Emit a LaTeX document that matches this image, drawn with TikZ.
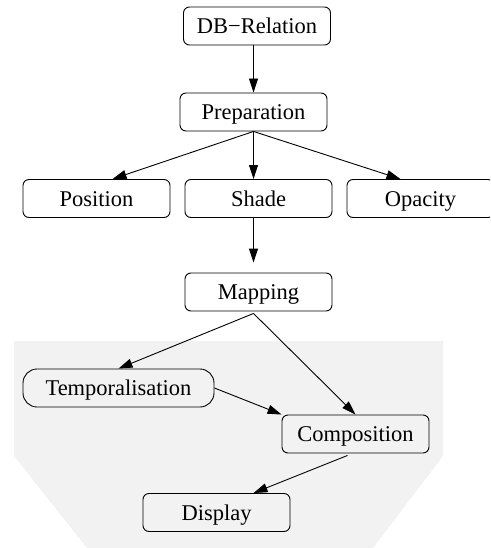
\documentclass[tikz,border=0pt]{standalone}
\usepackage{fontspec}
\setmainfont{Liberation Serif}
\usetikzlibrary{arrows.meta,calc}
\definecolor{panel}{HTML}{F2F2F2}
\tikzset{
  stagebox/.style={draw, line width=0.9pt, rounded corners=6pt, minimum width=147pt,
    minimum height=38pt, inner sep=0pt, text height=17pt, text depth=1.5pt,
    font=\fontsize{22.5}{26}\selectfont, fill=white},
  roundbox/.style={stagebox, rounded corners=14pt, minimum width=191pt},
  flow/.style={draw, line width=0.9pt, -{Triangle[length=14pt,width=9pt]}}
}
\begin{document}
\begin{tikzpicture}[x=1pt,y=-1pt]
  \clip (0,0) rectangle (490,548);
  \useasboundingbox (0,0) rectangle (490,548);
  % shaded panel behind the lower stages
  \fill[panel] (14,341) -- (443,341) -- (443,456) -- (373,548) -- (87,548) -- (14,456) -- cycle;

  \node[stagebox] (db)   at (257,26)    {DB\textminus Relation};
  \node[stagebox] (prep) at (253.5,112) {Preparation};
  \node[stagebox] (pos)  at (96.5,198.5) {Position};
  \node[stagebox] (shd)  at (258.5,198.5) {Shade};
  \node[stagebox] (opa)  at (420.5,198.5) {Opacity};
  \node[stagebox] (map)  at (258.5,292) {Mapping};
  \node[roundbox, fill=panel] (tmp) at (118.5,388) {Temporalisation};
  \node[stagebox, fill=panel] (cmp) at (355.5,434) {Composition};
  \node[stagebox, fill=panel] (dsp) at (216.5,512.5) {Display};

  \draw[flow] (db.south -| prep.north) -- (prep.north);
  \draw[flow] (prep.south) -- ([xshift=16pt]pos.north);
  \draw[flow] (prep.south) -- (prep.south |- shd.north);
  \draw[flow] (prep.south) -- ([xshift=-20pt]opa.north);
  \draw[flow] (shd.south -| prep.south) -- ([yshift=10pt]map.north -| prep.south);
  \draw[flow] ([yshift=-2pt]map.south -| prep.south) -- (tmp.north);
  \draw[flow] ([yshift=-2pt]map.south -| prep.south) -- (cmp.north);
  \draw[flow] (tmp.east) -- (cmp.north west);
  \draw[flow] ([xshift=-8pt,yshift=-2pt]cmp.south) -- ([xshift=37pt]dsp.north);
\end{tikzpicture}
\end{document}
